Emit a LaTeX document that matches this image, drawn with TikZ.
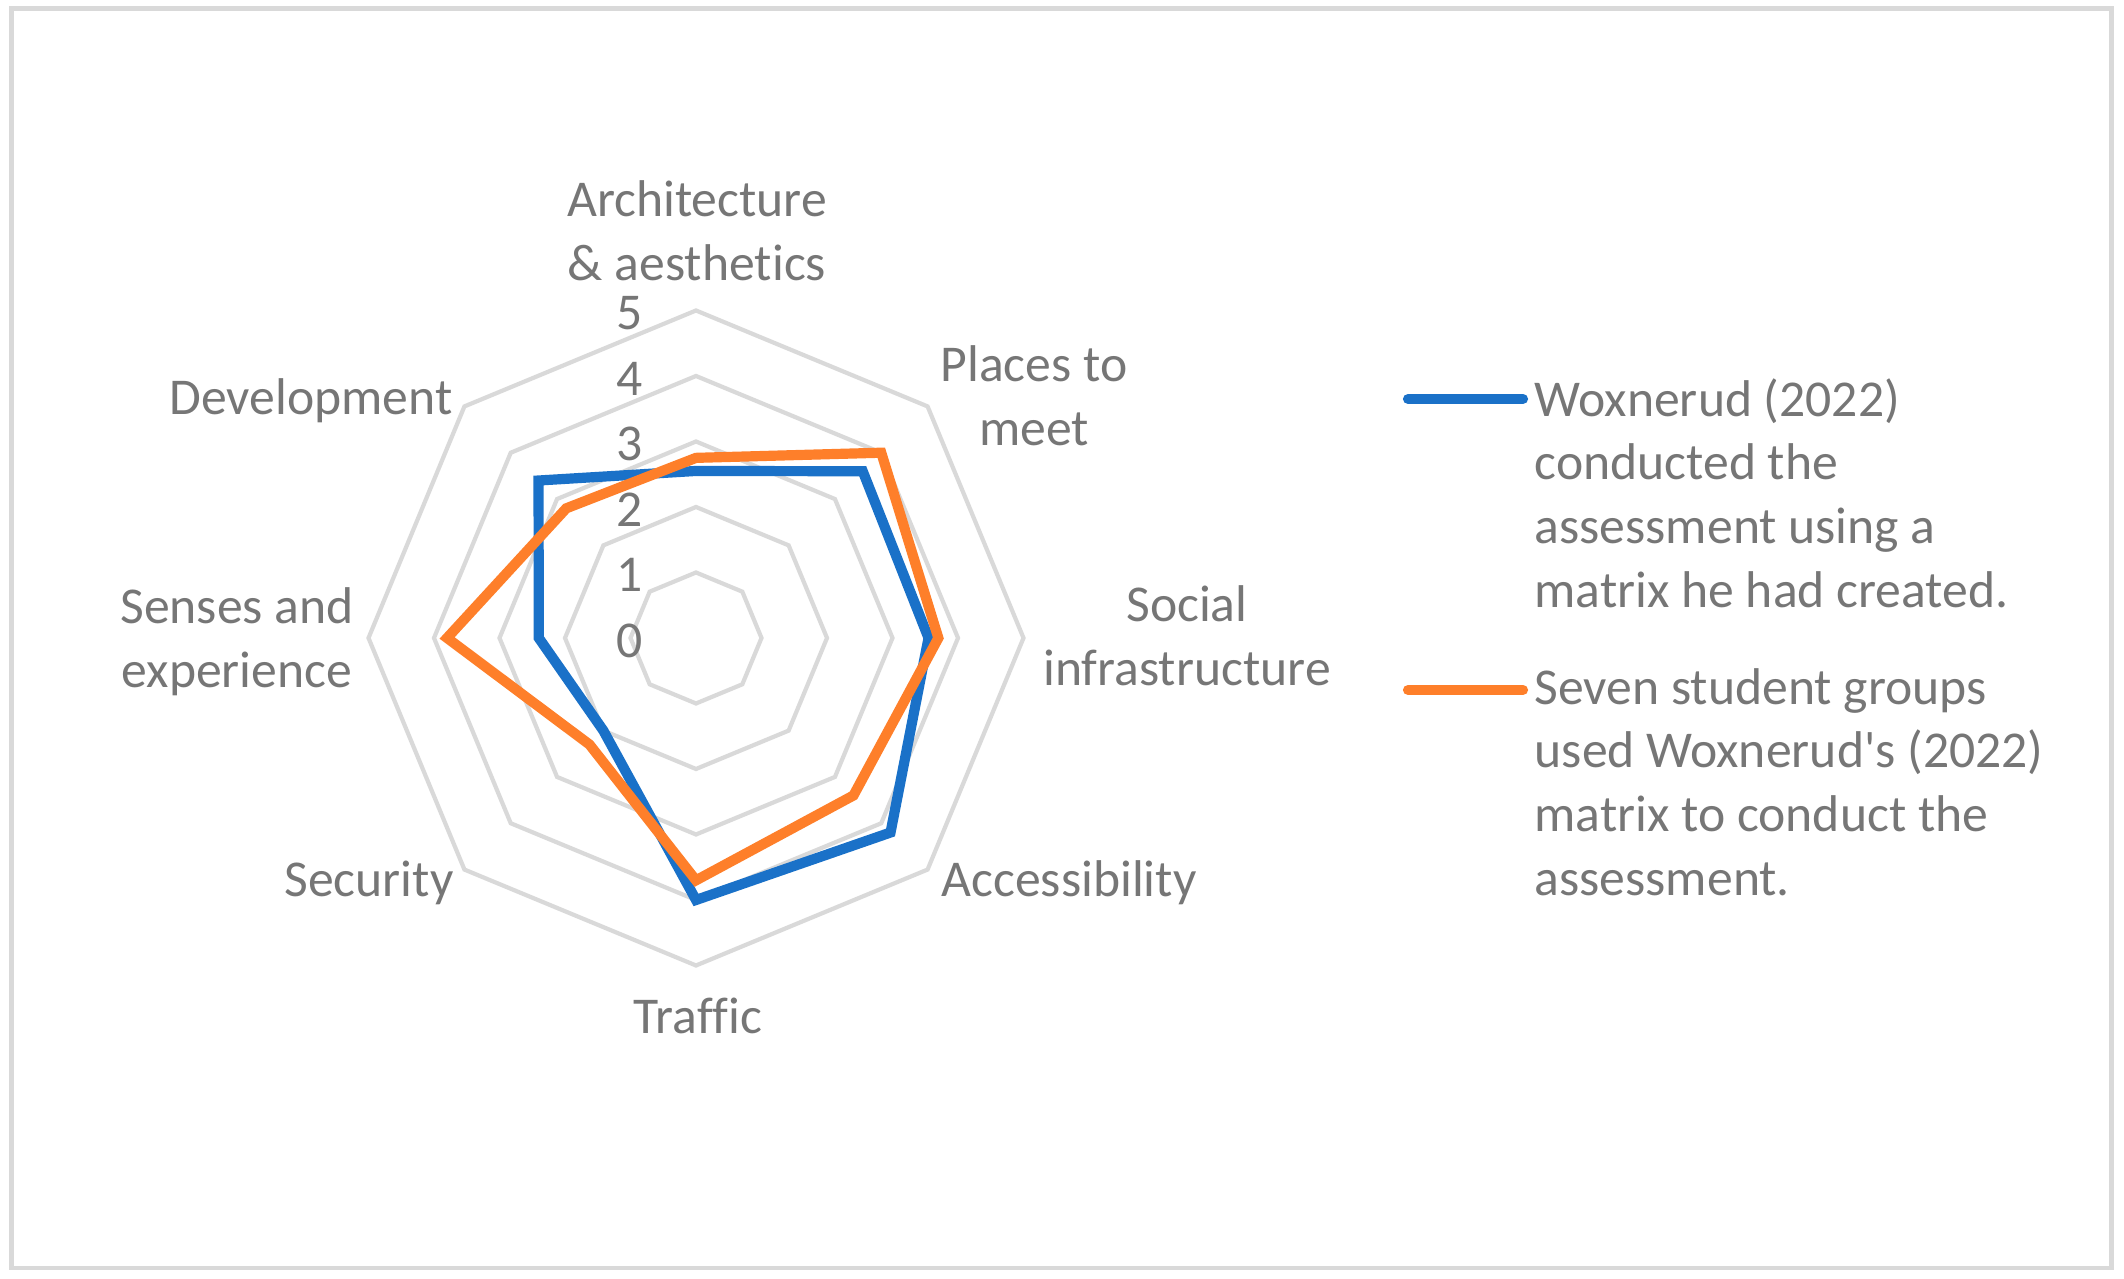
\documentclass[tikz,border=0pt]{standalone}
\usepackage{fontspec}
\setmainfont{Carlito}[Ligatures={TeXOff,CommonOff}]
\definecolor{serblue}{HTML}{1A71C8}
\definecolor{serorange}{HTML}{FE7F2A}
\definecolor{gridgray}{HTML}{D9D9D9}
\definecolor{txtgray}{HTML}{767676}
\tikzset{
  lbl/.style={text=txtgray, font=\fontsize{14.7}{18.1}\selectfont, align=center, inner sep=0pt},
  ring/.style={draw=gridgray, line width=1.2pt},
  serA/.style={draw=serblue, line width=2.9pt},
  serB/.style={draw=serorange, line width=2.9pt},
}
\begin{document}
\begin{tikzpicture}
  \useasboundingbox (0,0) rectangle (21.24,12.79);
  \draw[gridgray, line width=1.3pt] (0.115,0.11) rectangle (21.115,12.705);
  \begin{scope}[shift={(6.96,6.41)}, scale=0.655]
    \draw[ring] (90:1) -- (45:1) -- (0:1) -- (-45:1) -- (-90:1) -- (-135:1) -- (180:1) -- (135:1) -- cycle;
    \draw[ring] (90:2) -- (45:2) -- (0:2) -- (-45:2) -- (-90:2) -- (-135:2) -- (180:2) -- (135:2) -- cycle;
    \draw[ring] (90:3) -- (45:3) -- (0:3) -- (-45:3) -- (-90:3) -- (-135:3) -- (180:3) -- (135:3) -- cycle;
    \draw[ring] (90:4) -- (45:4) -- (0:4) -- (-45:4) -- (-90:4) -- (-135:4) -- (180:4) -- (135:4) -- cycle;
    \draw[ring] (90:5) -- (45:5) -- (0:5) -- (-45:5) -- (-90:5) -- (-135:5) -- (180:5) -- (135:5) -- cycle;
    \path
      (-1.02,-0.04) node[lbl] (v0) {0}
      (-1.02,0.96) node[lbl] (v1) {1}
      (-1.02,1.96) node[lbl] (v2) {2}
      (-1.02,2.96) node[lbl] (v3) {3}
      (-1.02,3.96) node[lbl] (v4) {4}
      (-1.02,4.96) node[lbl] (v5) {5};
    \draw[serA] (90:2.55) -- (45:3.6) -- (0:3.55) -- (-45:4.2) -- (-90:4) -- (-135:2) -- (180:2.4) -- (135:3.4) -- cycle;
    \draw[serB] (90:2.75) -- (45:4) -- (0:3.7) -- (-45:3.4) -- (-90:3.7) -- (-135:2.3) -- (180:3.8) -- (135:2.8) -- cycle;
  \end{scope}
  \path
    (6.97,10.48) node[lbl] (arch) {Architecture\\\& aesthetics}
    (10.34,8.83) node[lbl] (meet) {Places to\\meet}
    (11.87,6.43) node[lbl] (social) {Social\\infrastructure}
    (10.69,3.96) node[lbl] (access) {Accessibility}
    (6.98,2.635) node[lbl] (traffic) {Traffic}
    (3.69,3.96) node[lbl] (security) {Security}
    (2.37,6.37) node[lbl] (senses) {Senses and\\experience}
    (3.11,8.78) node[lbl] (devel) {Development};
  \node[lbl, anchor=west, align=left] (woxA) at (15.34,7.86) {Woxnerud (2022)\\conducted the\\assessment using a\\matrix he had created.};
  \node[lbl, anchor=west, align=left] (woxB) at (15.34,4.97) {Seven student groups\\used Woxnerud's (2022)\\matrix to conduct the\\assessment.};
  \coordinate (kA1) at (14.08,8.80);
  \coordinate (kA2) at (15.23,8.80);
  \coordinate (kB1) at (14.08,5.89);
  \coordinate (kB2) at (15.23,5.89);
  \draw[serA, line cap=round] (kA1) -- (kA2);
  \draw[serB, line cap=round] (kB1) -- (kB2);
\end{tikzpicture}
\end{document}
